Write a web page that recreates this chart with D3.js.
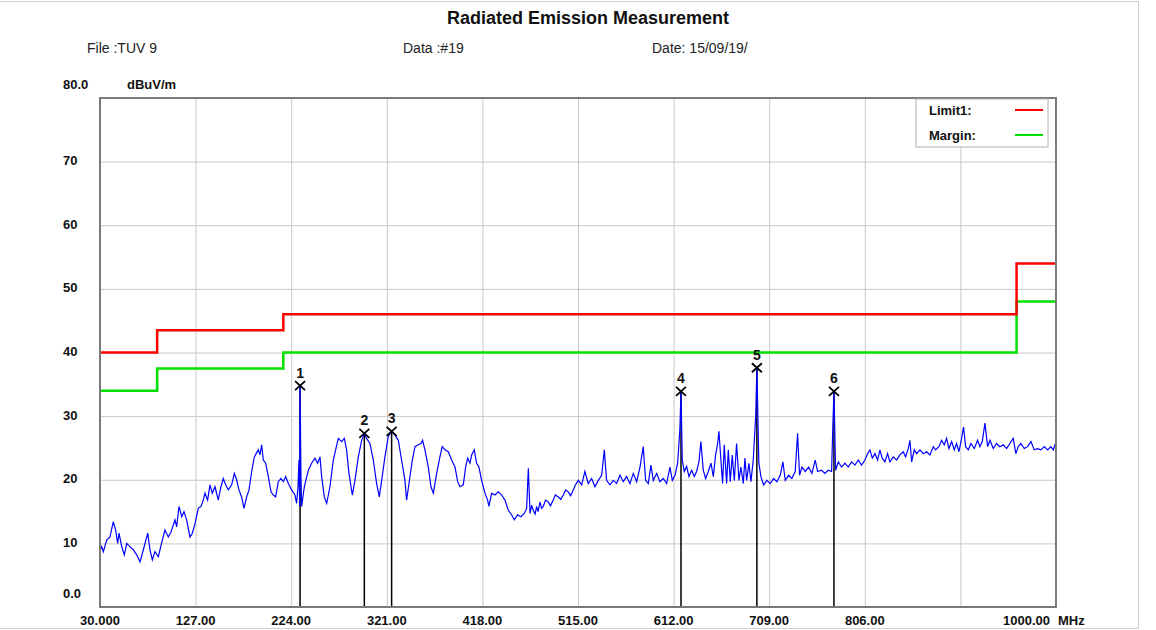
<!DOCTYPE html>
<html>
<head>
<meta charset="utf-8">
<script src="https://cdn.jsdelivr.net/npm/d3@7"></script>
<style>
  body { margin: 0; background: #fff; }
  svg { display: block; font-family: "Liberation Sans", Arial, sans-serif; }
</style>
</head>
<body>
<div id="chart"></div>
<script>
// ---- data ----
var xGrid = [30, 127, 224, 321, 418, 515, 612, 709, 806, 903, 1000];
var xTickLabels = ["30.000", "127.00", "224.00", "321.00", "418.00", "515.00", "612.00", "709.00", "806.00", "", "1000.00"];
var yGrid = [0, 10, 20, 30, 40, 50, 60, 70, 80];
var yTickLabels = ["0.0", "10", "20", "30", "40", "50", "60", "70", "80.0"];

// limit line (step after each frequency)
var limitFreq = [30, 88, 216, 960, 1000];
var limit1 = [40, 43.5, 46, 54, 54];
var margin1 = [34, 37.5, 40, 48, 48];

// peak markers
var markerNo = ["1", "2", "3", "4", "5", "6"];
var markerFreq = [233.0, 298.2, 325.9, 619.5, 696.5, 774.7];
var markerLevel = [34.8, 27.3, 27.6, 33.9, 37.6, 33.9];

// measured trace [MHz, dBuV/m]
var trace = [
  [30.0, 9.0], [31.7, 9.5], [33.4, 8.7], [36.8, 10.5], [40.1, 11.0], [43.5, 13.4], [45.9, 12.1],
  [47.9, 10.0], [49.3, 11.6], [52.0, 9.5], [54.7, 8.2], [57.1, 10.0], [60.4, 9.5], [63.8, 9.0],
  [67.2, 8.2], [70.6, 7.1], [74.0, 9.0], [78.4, 11.6], [80.7, 9.0], [83.1, 7.4], [85.8, 8.7],
  [89.2, 7.9], [91.9, 9.7], [95.9, 12.1], [99.3, 11.0], [102.0, 11.8], [106.1, 13.7], [107.8, 12.6],
  [110.1, 15.8], [112.9, 14.2], [115.2, 15.0], [117.9, 13.7], [121.3, 11.0], [123.7, 11.6],
  [126.4, 13.1], [129.7, 15.5], [132.5, 15.8], [134.8, 16.8], [136.5, 17.9], [139.2, 16.8],
  [141.6, 19.2], [143.9, 17.9], [146.7, 18.9], [150.0, 16.8], [152.7, 18.9], [155.1, 20.2],
  [157.5, 19.2], [160.2, 18.4], [163.6, 19.2], [166.3, 21.0], [168.6, 20.0], [171.0, 18.4],
  [173.7, 17.3], [176.1, 15.5], [178.8, 17.3], [181.2, 18.4], [183.9, 21.3], [186.6, 23.6],
  [190.6, 24.7], [192.3, 23.9], [194.0, 25.5], [195.7, 23.1], [198.1, 22.6], [200.8, 20.5],
  [203.5, 18.1], [205.9, 17.6], [208.2, 17.3], [210.9, 19.7], [213.6, 20.2], [216.0, 19.7],
  [218.4, 20.5], [221.1, 19.4], [224.4, 18.4], [227.8, 17.6], [229.5, 16.3], [230.9, 18.9],
  [231.9, 23.1], [232.6, 15.8], [233.0, 34.8], [233.9, 20.5], [234.6, 15.8], [237.3, 18.9],
  [241.4, 21.5], [244.7, 22.6], [248.1, 23.4], [250.8, 22.6], [253.2, 23.6], [254.9, 20.5],
  [257.6, 17.3], [260.0, 16.3], [263.3, 18.9], [266.7, 23.1], [269.1, 24.7], [271.8, 26.5],
  [275.2, 26.0], [277.9, 26.5], [280.2, 24.7], [282.6, 21.0], [286.0, 17.6], [288.7, 19.9],
  [292.1, 23.6], [295.5, 26.2], [298.2, 27.3], [300.5, 26.5], [303.9, 25.7], [307.3, 23.1],
  [310.7, 19.4], [313.4, 17.3], [315.8, 19.9], [319.1, 23.6], [322.5, 26.8], [325.9, 27.6],
  [329.3, 27.0], [332.7, 26.2], [336.0, 23.1], [339.4, 19.9], [341.1, 16.8], [343.5, 19.4],
  [346.9, 23.1], [349.6, 25.2], [353.0, 25.5], [355.7, 25.7], [357.3, 26.2], [359.7, 24.7],
  [363.1, 22.0], [365.8, 18.9], [368.2, 17.9], [371.6, 21.0], [374.9, 23.6], [377.3, 25.2],
  [380.0, 24.7], [383.4, 24.4], [386.8, 23.1], [390.2, 22.0], [392.9, 19.7], [395.2, 18.9],
  [398.6, 19.2], [401.0, 22.0], [403.0, 23.4], [405.4, 22.6], [407.1, 23.9], [409.8, 24.7],
  [412.1, 22.6], [414.5, 22.0], [417.2, 19.9], [420.6, 17.9], [423.3, 16.8], [424.6, 15.8],
  [427.4, 17.9], [430.7, 17.6], [434.1, 18.1], [437.5, 17.6], [440.9, 16.8], [444.3, 15.2],
  [447.6, 14.5], [450.4, 13.7], [453.7, 14.5], [457.1, 14.2], [460.5, 14.7], [462.9, 15.5],
  [464.6, 21.8], [466.3, 14.7], [468.0, 16.0], [469.6, 15.2], [471.5, 14.6], [473.0, 15.8],
  [474.5, 15.0], [476.4, 16.5], [478.0, 15.5], [479.8, 15.8], [482.0, 16.8], [484.9, 16.5],
  [487.0, 15.9], [489.9, 16.8], [492.0, 17.6], [495.0, 17.3], [497.5, 16.9], [500.1, 17.6],
  [502.5, 18.4], [505.1, 18.1], [507.5, 17.5], [510.2, 18.4], [512.5, 19.2], [515.3, 19.9],
  [518.7, 19.2], [522.0, 21.3], [525.4, 19.4], [528.8, 20.2], [532.2, 18.9], [535.6, 19.9],
  [539.0, 20.7], [541.7, 24.7], [544.0, 19.9], [547.4, 19.2], [550.8, 19.9], [554.2, 19.4],
  [557.6, 20.7], [560.9, 19.7], [564.3, 20.5], [567.7, 19.4], [571.1, 21.0], [574.5, 19.7],
  [577.9, 22.0], [581.2, 25.2], [583.6, 19.9], [586.3, 19.4], [589.0, 22.3], [591.4, 19.9],
  [594.8, 21.0], [598.1, 19.7], [601.5, 20.2], [604.9, 19.4], [608.3, 22.0], [610.7, 19.9],
  [613.4, 20.7], [616.1, 22.6], [618.4, 28.0], [619.5, 33.9], [620.8, 23.1], [622.8, 21.3],
  [625.2, 22.1], [627.6, 20.5], [630.3, 21.5], [633.0, 20.5], [635.3, 21.3], [637.7, 22.8],
  [639.7, 26.0], [642.1, 21.5], [644.5, 20.2], [647.2, 21.3], [649.9, 22.6], [652.3, 20.5],
  [654.6, 23.9], [656.7, 25.7], [658.0, 27.6], [660.0, 23.1], [661.7, 19.4], [663.4, 25.5],
  [665.8, 19.4], [667.5, 24.7], [669.5, 19.7], [671.5, 23.9], [673.6, 19.9], [675.9, 25.7],
  [678.3, 19.9], [680.3, 22.0], [682.7, 19.4], [684.4, 23.4], [686.1, 19.9], [688.4, 22.6],
  [690.5, 19.7], [692.8, 23.1], [695.3, 30.0], [696.5, 37.6], [698.5, 22.6], [700.6, 20.5],
  [703.3, 19.2], [706.7, 19.9], [710.1, 19.4], [713.4, 20.2], [716.8, 19.7], [720.2, 20.7],
  [722.9, 22.8], [725.3, 19.9], [728.7, 20.7], [732.0, 20.2], [735.4, 21.3], [737.8, 27.3],
  [739.8, 20.7], [742.2, 22.0], [745.6, 21.3], [749.0, 22.0], [752.3, 21.0], [755.7, 23.1],
  [758.1, 21.3], [762.2, 21.5], [765.5, 21.0], [768.9, 21.5], [772.3, 21.3], [773.6, 28.5],
  [774.7, 33.9], [776.4, 21.5], [779.1, 22.8], [782.4, 22.0], [785.8, 22.6], [789.2, 22.0],
  [792.6, 22.8], [796.0, 22.3], [799.4, 23.1], [802.7, 22.3], [806.1, 23.1], [808.8, 24.1],
  [811.2, 24.7], [813.6, 23.4], [816.3, 24.1], [819.0, 23.1], [821.3, 24.7], [823.7, 23.4],
  [826.4, 22.8], [829.1, 24.1], [831.5, 22.8], [834.9, 23.6], [838.3, 23.1], [841.6, 23.9],
  [845.0, 24.4], [847.4, 23.6], [850.1, 24.9], [851.8, 26.2], [853.5, 22.8], [856.2, 24.7],
  [858.6, 24.1], [861.9, 24.7], [865.3, 24.1], [868.7, 24.4], [872.1, 23.9], [875.5, 25.2],
  [877.8, 24.7], [881.2, 25.2], [883.9, 26.2], [886.6, 25.5], [889.0, 26.5], [891.4, 24.9],
  [894.1, 26.0], [896.8, 24.7], [899.1, 25.7], [901.5, 24.4], [904.2, 26.5], [906.2, 28.3],
  [908.3, 25.2], [911.0, 24.7], [913.7, 25.7], [917.1, 24.9], [920.4, 26.2], [922.8, 25.2],
  [925.2, 26.0], [927.9, 28.9], [930.6, 25.2], [933.0, 26.2], [936.3, 24.9], [939.7, 25.7],
  [943.1, 25.2], [946.5, 25.5], [949.9, 24.9], [953.2, 25.7], [956.6, 26.5], [959.3, 24.1],
  [961.7, 25.2], [964.4, 25.7], [967.8, 24.9], [971.2, 25.2], [974.6, 26.0], [977.9, 24.7],
  [981.3, 24.9], [984.7, 24.7], [988.1, 25.2], [991.5, 24.7], [994.8, 25.2], [997.2, 24.7],
  [1000.0, 26.0]
];

// ---- drawing ----
var W = 1156, H = 630;
var plot = { left: 100, right: 1056, top: 98, bottom: 607 };

var svg = d3.select("#chart").append("svg")
  .attr("width", W)
  .attr("height", H);

var x = d3.scaleLinear().domain([30, 1000]).range([plot.left, plot.right]);
var y = d3.scaleLinear().domain([0, 80]).range([plot.bottom, plot.top]);

// page frame
svg.append("path")
  .attr("d", "M0,1.5 H1138.5 V628.5 H0")
  .attr("fill", "none")
  .attr("stroke", "#d0d0d0")
  .attr("stroke-width", 1);

// header
svg.append("text")
  .attr("x", 588).attr("y", 24)
  .attr("text-anchor", "middle")
  .attr("font-size", "18px").attr("font-weight", "bold")
  .attr("fill", "#111")
  .text("Radiated Emission Measurement");

var header = [["File :TUV 9", 87], ["Data :#19", 403], ["Date: 15/09/19/", 652]];
svg.selectAll(".hdr")
  .data(header)
  .enter()
  .append("text")
  .attr("class", "hdr")
  .attr("x", d => d[1]).attr("y", 53)
  .attr("font-size", "14px")
  .attr("fill", "#222")
  .text(d => d[0]);

// grid
var grid = svg.append("g");
grid.selectAll(".vg")
  .data(xGrid)
  .enter()
  .append("line")
  .attr("x1", d => x(d) + 0.5).attr("x2", d => x(d) + 0.5)
  .attr("y1", plot.top).attr("y2", plot.bottom)
  .attr("stroke", "#c8c8c8").attr("stroke-width", 1);
grid.selectAll(".hg")
  .data(yGrid)
  .enter()
  .append("line")
  .attr("x1", plot.left).attr("x2", plot.right)
  .attr("y1", d => y(d) + 0.5).attr("y2", d => y(d) + 0.5)
  .attr("stroke", "#c8c8c8").attr("stroke-width", 1);

// y labels
svg.selectAll(".ylab")
  .data(yGrid)
  .enter()
  .append("text")
  .attr("x", 63)
  .attr("y", (d, i) => (d === 0 || d === 80) ? y(d) - 14 : y(d) - 1)
  .attr("dy", "0.35em")
  .attr("font-size", "13px").attr("font-weight", "bold")
  .attr("fill", "#111")
  .text((d, i) => yTickLabels[i]);

svg.append("text")
  .attr("x", 127).attr("y", y(80) - 14)
  .attr("dy", "0.35em")
  .attr("font-size", "13px").attr("font-weight", "bold")
  .attr("fill", "#111")
  .text("dBuV/m");

// x labels
svg.selectAll(".xlab")
  .data(xGrid)
  .enter()
  .append("text")
  .attr("x", d => d === 1000 ? x(d) - 6 : x(d))
  .attr("y", 625)
  .attr("text-anchor", d => d === 1000 ? "end" : "middle")
  .attr("font-size", "13px").attr("font-weight", "bold")
  .attr("fill", "#111")
  .text((d, i) => xTickLabels[i]);

svg.append("text")
  .attr("x", 1058).attr("y", 625)
  .attr("font-size", "13px").attr("font-weight", "bold")
  .attr("fill", "#111")
  .text("MHz");

// limit lines
var stepLine = d3.line()
  .x(d => x(d[0]))
  .y(d => y(d[1]))
  .curve(d3.curveStepAfter);

svg.append("path")
  .datum(limitFreq.map((f, i) => [f, margin1[i]]))
  .attr("d", stepLine)
  .attr("fill", "none")
  .attr("stroke", "#00e000")
  .attr("stroke-width", 2.5);

svg.append("path")
  .datum(limitFreq.map((f, i) => [f, limit1[i]]))
  .attr("d", stepLine)
  .attr("fill", "none")
  .attr("stroke", "#ff0000")
  .attr("stroke-width", 2.5);

// marker drop lines
var markers = markerFreq.map((f, i) => ({ f: f, v: markerLevel[i], n: markerNo[i] }));

svg.selectAll(".mline")
  .data(markers)
  .enter()
  .append("line")
  .attr("x1", d => x(d.f)).attr("x2", d => x(d.f))
  .attr("y1", d => y(d.v)).attr("y2", plot.bottom)
  .attr("stroke", "#000").attr("stroke-width", 1.5);

// trace
var traceLine = d3.line()
  .x(d => x(d[0]))
  .y(d => y(d[1]));

svg.append("path")
  .datum(trace)
  .attr("d", traceLine)
  .attr("fill", "none")
  .attr("stroke", "#0000ff")
  .attr("stroke-width", 1.2)
  .attr("stroke-linejoin", "miter");

// marker crosses + numbers
var mk = svg.selectAll(".mk")
  .data(markers)
  .enter()
  .append("g")
  .attr("transform", d => `translate(${x(d.f)},${y(d.v)})`);

mk.append("path")
  .attr("d", "M-5,-4.5 L5,4.5 M-5,4.5 L5,-4.5")
  .attr("stroke", "#000")
  .attr("stroke-width", 1.8)
  .attr("fill", "none");

mk.append("text")
  .attr("x", 0).attr("y", -8)
  .attr("text-anchor", "middle")
  .attr("font-size", "14px").attr("font-weight", "bold")
  .attr("fill", "#111")
  .text(d => d.n);

// plot border
svg.append("rect")
  .attr("x", plot.left).attr("y", plot.top)
  .attr("width", plot.right - plot.left)
  .attr("height", plot.bottom - plot.top)
  .attr("fill", "none")
  .attr("stroke", "#7a7a7a")
  .attr("stroke-width", 2);

// legend
var leg = svg.append("g").attr("transform", "translate(916,99)");
leg.append("rect")
  .attr("width", 132).attr("height", 48)
  .attr("fill", "#fff")
  .attr("stroke", "#b0b0b0");

var legItems = [["Limit1:", "#ff0000"], ["Margin:", "#00e000"]];
var li = leg.selectAll(".li")
  .data(legItems)
  .enter()
  .append("g")
  .attr("transform", (d, i) => `translate(0,${11 + i * 25})`);
li.append("text")
  .attr("x", 13).attr("dy", "0.35em")
  .attr("font-size", "13px").attr("font-weight", "bold")
  .attr("fill", "#111")
  .text(d => d[0]);
li.append("line")
  .attr("x1", 99).attr("x2", 127)
  .attr("stroke", d => d[1])
  .attr("stroke-width", 2);
</script>
</body>
</html>
